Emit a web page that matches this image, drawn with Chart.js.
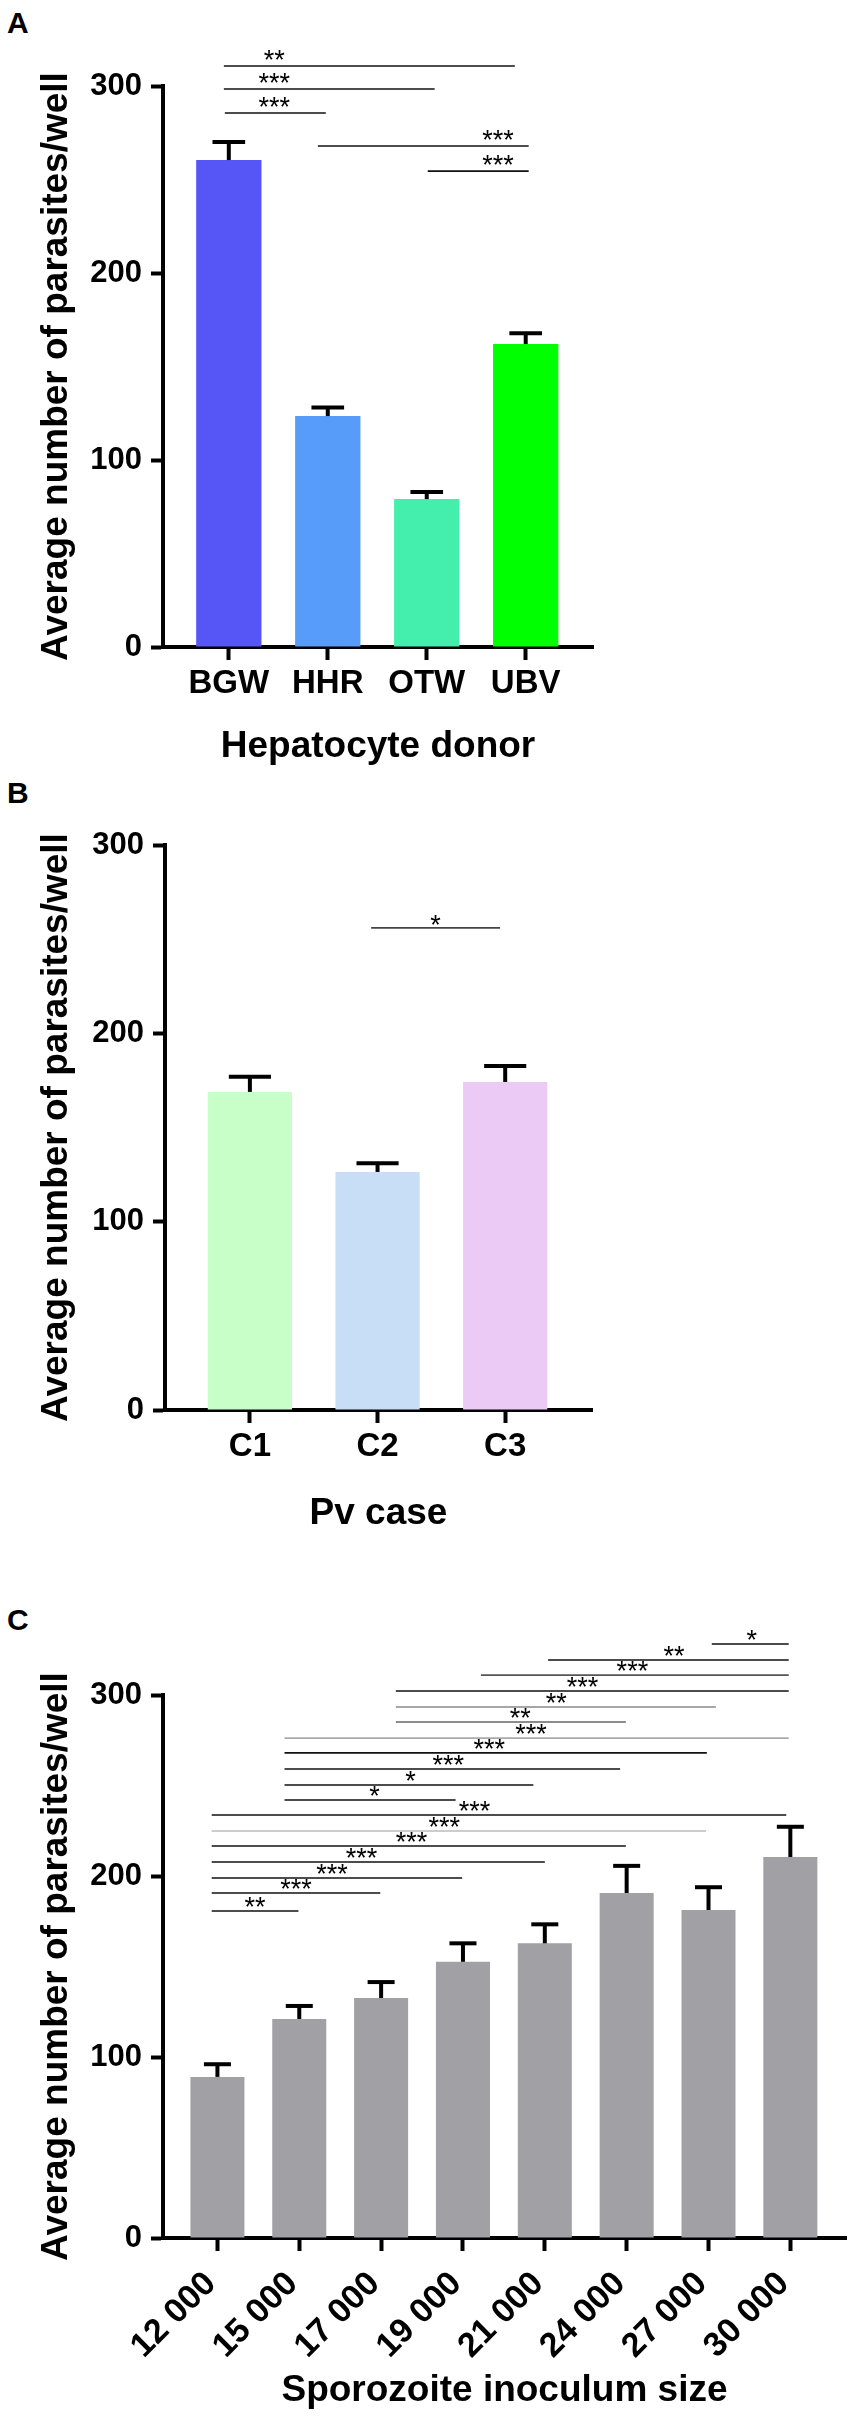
<!DOCTYPE html>
<html><head><meta charset="utf-8">
<script src="https://cdn.jsdelivr.net/npm/chart.js@4.4.1/dist/chart.umd.min.js"></script>
<style>
html,body{margin:0;padding:0;background:#fff;}
body{width:854px;height:2429px;position:relative;overflow:hidden;font-family:"Liberation Sans",Arial,sans-serif;}
canvas{position:absolute;left:0;}
.lbl{position:absolute;left:7px;font:bold 30px "Liberation Sans",Arial,sans-serif;line-height:30px;color:#000;}
</style></head><body>
<div class="lbl" style="top:8px">A</div>
<div class="lbl" style="top:778px">B</div>
<div class="lbl" style="top:1605px">C</div>
<canvas id="cA" width="854" height="790" style="top:0"></canvas>
<canvas id="cB" width="854" height="770" style="top:790px"></canvas>
<canvas id="cC" width="854" height="869" style="top:1560px"></canvas>
<script>
// ---------- DATA ----------
const donorLabels = ['BGW','HHR','OTW','UBV'];
const donorMeans  = [260.4, 123.5, 79.1, 162.0];
const donorErrors = [9.6, 4.6, 3.8, 5.8];
const donorColors = ['#5656F6','#569CF8','#44EFAE','#00FF00'];
const donorTests  = [[0,3,'**'],[0,2,'***'],[0,1,'***'],[1,3,'***'],[2,3,'***']];

const caseLabels = ['C1','C2','C3'];
const caseMeans  = [168.9, 126.4, 174.2];
const caseErrors = [8.1, 4.6, 8.5];
const caseColors = ['#C8FEC8','#C8DEF6','#EBCAF5'];
const caseTests  = [[1,2,'*']];

const doseLabels = ['12 000','15 000','17 000','19 000','21 000','24 000','27 000','30 000'];
const doseMeans  = [89.0, 121.0, 132.6, 152.6, 162.8, 190.6, 181.2, 210.5];
const doseErrors = [7.0, 7.2, 8.8, 10.2, 10.5, 15.0, 12.6, 16.7];
const doseColor  = '#A0A0A5';
const doseTests  = [[6,7,'*'],[4,7,'**'],[3,7,'***'],[2,7,'***'],[2,6,'**'],[2,5,'**'],
                    [1,7,'***'],[1,6,'***'],[1,5,'***'],[1,4,'*'],[1,3,'*'],
                    [0,7,'***'],[0,6,'***'],[0,5,'***'],[0,4,'***'],[0,3,'***'],[0,2,'***'],[0,1,'**']];

const yTicks = [0,100,200,300];
const yTitle = 'Average number of parasites/well';

// ---------- bracket layout (heights in axis units, ends in category units) ----------
const donorBracketLayout = [
  {level:310.7, x1:-0.05, x2:2.89, tx:0.46},
  {level:298.4, x1:-0.05, x2:2.08, tx:0.46},
  {level:285.6, x1:-0.04, x2:0.98, tx:0.46},
  {level:267.9, x1:0.90,  x2:3.03, tx:2.72},
  {level:254.5, x1:2.01,  x2:3.03, tx:2.72}
];
const caseBracketLayout = [{level:256, x1:0.95, x2:1.96, color:'#444'}];
const doseBracketLayout = [
  {level:328.2, x1:6.04, x2:6.98, tx:6.53},
  {level:319.3, x1:4.04, x2:6.98, tx:5.58},
  {level:311.0, x1:3.22, x2:6.98, tx:5.07, color:'#555'},
  {level:302.2, x1:2.18, x2:6.98, tx:4.46},
  {level:293.4, x1:2.18, x2:6.09, tx:4.14, color:'#888'},
  {level:285.1, x1:2.18, x2:4.99, tx:3.70, color:'#666'},
  {level:276.2, x1:0.82, x2:6.98, tx:3.83, color:'#aaa'},
  {level:268.0, x1:0.82, x2:5.98, tx:3.32},
  {level:259.1, x1:0.82, x2:4.92, tx:2.82},
  {level:250.3, x1:0.82, x2:3.86, tx:2.36},
  {level:242.0, x1:0.82, x2:2.91, tx:1.92},
  {level:233.7, x1:-0.07, x2:6.95, tx:3.14},
  {level:224.9, x1:-0.07, x2:5.97, tx:2.77, color:'#bbb'},
  {level:216.6, x1:-0.07, x2:4.99, tx:2.37},
  {level:207.7, x1:-0.07, x2:4.00, tx:1.76},
  {level:198.9, x1:-0.07, x2:2.99, tx:1.40},
  {level:190.6, x1:-0.07, x2:1.99, tx:0.96},
  {level:180.7, x1:-0.07, x2:0.99, tx:0.46}
];

const FAM = '"Liberation Sans", Arial, Helvetica, sans-serif';
Chart.defaults.font.family = FAM;
Chart.defaults.color = '#000';

const errorBarPlugin = {
  id:'errorBars',
  afterDatasetsDraw(chart){
    const ctx = chart.ctx, ds = chart.data.datasets[0], meta = chart.getDatasetMeta(0), ys = chart.scales.y;
    ctx.save();
    ctx.strokeStyle = '#000'; ctx.lineWidth = 4; ctx.lineCap = 'butt';
    meta.data.forEach((bar,i)=>{
      const v = ds.data[i].y, e = ds.errors[i];
      const top = ys.getPixelForValue(v+e);
      const w = bar.width*0.5;
      ctx.beginPath(); ctx.moveTo(bar.x, bar.y); ctx.lineTo(bar.x, top); ctx.stroke();
      ctx.beginPath(); ctx.moveTo(bar.x-w/2, top); ctx.lineTo(bar.x+w/2, top); ctx.stroke();
    });
    ctx.restore();
  }
};

function bracketPlugin(tests, layout, gap){
  return {
    id:'brackets',
    afterDraw(chart){
      const ctx = chart.ctx, xs = chart.scales.x, ys = chart.scales.y;
      ctx.save();
      ctx.font = '27px ' + FAM;
      ctx.textAlign = 'center'; ctx.textBaseline = 'alphabetic';
      tests.forEach((t,k)=>{
        const L = layout[k] || {};
        const yy = ys.getPixelForValue(L.level);
        const x1 = xs.getPixelForValue(L.x1 != null ? L.x1 : t[0]);
        const x2 = xs.getPixelForValue(L.x2 != null ? L.x2 : t[1]);
        ctx.strokeStyle = L.color || '#111'; ctx.lineWidth = 1.6;
        ctx.beginPath(); ctx.moveTo(x1, yy); ctx.lineTo(x2, yy); ctx.stroke();
        const tx = L.tx != null ? xs.getPixelForValue(L.tx) : (x1+x2)/2;
        const m = ctx.measureText(t[2]);
        ctx.fillStyle = '#000';
        ctx.fillText(t[2], tx, yy - gap - m.actualBoundingBoxDescent);
      });
      ctx.restore();
    }
  };
}

function makeChart(id, c){
  const n = c.labels.length;
  return new Chart(document.getElementById(id), {
    type:'bar',
    data:{datasets:[{
      data: c.means.map((v,i)=>({x:i, y:v})),
      errors: c.errors,
      backgroundColor: c.colors,
      borderWidth: 0,
      categoryPercentage: 1,
      barPercentage: 0.66
    }]},
    options:{
      responsive:false, animation:false, devicePixelRatio:1,
      layout:{padding:{left:0, top:c.area.top, right:854-c.area.right, bottom:0}},
      plugins:{legend:{display:false}, tooltip:{enabled:false}},
      scales:{
        x:{
          type:'linear', min:-0.665, max:n-1+0.68, offset:false,
          afterBuildTicks: s=>{ s.ticks = c.labels.map((l,i)=>({value:i})); },
          afterFit: s=>{ s.height = c.canvasH - c.area.bottom; },
          ticks:{
            callback:(v)=>c.labels[v] + c.labelTail, autoSkip:false,
            maxRotation:c.rotation, minRotation:c.rotation,
            padding:c.tickPad, color:'#000',
            font:{size:c.xTickSize, weight:'bold', lineHeight:c.xTickLH}
          },
          grid:{offset:false, drawOnChartArea:false, tickLength:13, tickWidth:4, tickColor:'#000'},
          border:{color:'#000', width:4},
          title:{display:true, text:c.xTitle, color:'#000',
                 font:{size:37, weight:'bold'}, padding:{top:0, bottom:c.xTitlePad}}
        },
        y:{
          min:0, max:300,
          afterBuildTicks: s=>{ s.ticks = yTicks.map(v=>({value:v})); },
          afterFit: s=>{ s.width = c.area.left; },
          ticks:{padding:9, color:'#000', font:{size:31, weight:'bold'}},
          grid:{offset:false, drawOnChartArea:false, tickLength:12, tickWidth:4, tickColor:'#000'},
          border:{color:'#000', width:4},
          title:{display:true, text:yTitle, color:'#000',
                 font:{size:37, weight:'bold'}, padding:{top:34.5, bottom:0}}
        }
      }
    },
    plugins:[errorBarPlugin, bracketPlugin(c.tests, c.layout, c.gap)]
  });
}

makeChart('cA', {
  labels:donorLabels, means:donorMeans, errors:donorErrors, colors:donorColors,
  tests:donorTests, layout:donorBracketLayout, gap:6,
  area:{left:163, top:86, right:593, bottom:647}, canvasH:790,
  xTitle:'Hepatocyte donor', xTitlePad:20.8, tickPad:4, rotation:0, xTickSize:33, xTickLH:1.2, labelTail:''
});
makeChart('cB', {
  labels:caseLabels, means:caseMeans, errors:caseErrors, colors:caseColors,
  tests:caseTests, layout:caseBracketLayout, gap:3,
  area:{left:165, top:55, right:592, bottom:620}, canvasH:770,
  xTitle:'Pv case', xTitlePad:24.3, tickPad:4, rotation:0, xTickSize:33, xTickLH:1.2, labelTail:''
});
makeChart('cC', {
  labels:doseLabels, means:doseMeans, errors:doseErrors, colors:doseLabels.map(()=>doseColor),
  tests:doseTests, layout:doseBracketLayout, gap:4,
  area:{left:163, top:135, right:846, bottom:678}, canvasH:869,
  xTitle:'Sporozoite inoculum size', xTitlePad:15.8, tickPad:10, rotation:45, xTickSize:34, xTickLH:0.9, labelTail:'\u00A0'
});
</script>
</body></html>
